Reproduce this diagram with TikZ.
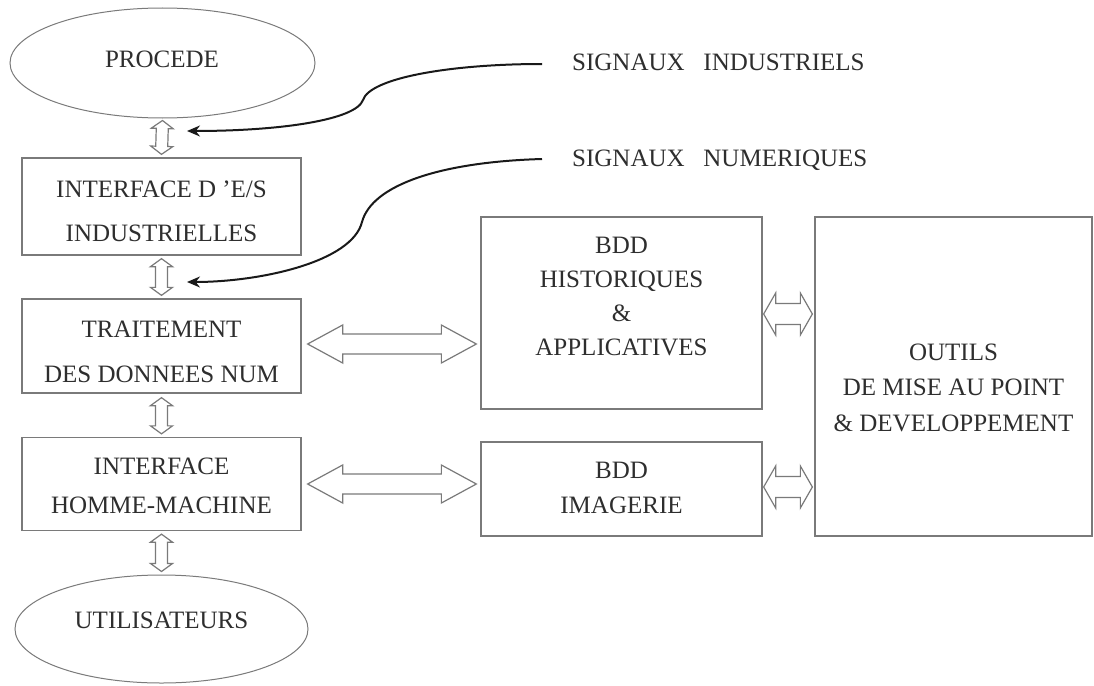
\documentclass[tikz,border=0pt]{standalone}
\usepackage{fontspec}
\setmainfont{Liberation Serif}
\usetikzlibrary{shapes.geometric,calc,arrows.meta}
\definecolor{linegray}{HTML}{7A7A7A}
\definecolor{txtgray}{HTML}{2E2E2E}
\newcommand\dblarrow[5]{%
  \path (#1) coordinate (da1) (#2) coordinate (da2)
    ($(da1)!#3pt!(da2)$) coordinate (da3)
    ($(da2)!#3pt!(da1)$) coordinate (da4);
  \draw[darrow] (da1) -- ($(da3)!#5pt!90:(da2)$) -- ($(da3)!#4pt!90:(da2)$)
    -- ($(da4)!#4pt!-90:(da1)$) -- ($(da4)!#5pt!-90:(da1)$) -- (da2)
    -- ($(da4)!#5pt!90:(da1)$) -- ($(da4)!#4pt!90:(da1)$)
    -- ($(da3)!#4pt!-90:(da2)$) -- ($(da3)!#5pt!-90:(da2)$) -- cycle;
}
\tikzset{
  box/.style={draw=linegray, line width=1.3pt, rectangle, inner sep=0pt},
  oval/.style={draw=linegray, line width=1pt, ellipse, inner sep=0pt},
  txt/.style={text=txtgray, align=center, inner sep=0pt},
  darrow/.style={draw=linegray, line width=1.2pt, line join=miter, fill=white},
  sigarrow/.style={draw=black!90, line width=2pt, -{Stealth[length=13pt,width=11pt]}}
}
\begin{document}
\begin{tikzpicture}[x=1pt,y=-1pt]
\useasboundingbox[fill=white] (0,0) rectangle (1094,685);
% shapes
\node[oval, minimum width=305, minimum height=110] (proc) at (162.5,63) {};
\node[box, minimum width=279, minimum height=97] (ind) at (161.5,206.5) {};
\node[box, minimum width=279, minimum height=94] (trt) at (161.5,346) {};
\node[box, minimum width=279, minimum height=93] (ihm) at (161.5,484) {};
\node[oval, minimum width=293, minimum height=108] (uti) at (161.5,629) {};
\node[box, minimum width=281, minimum height=192] (bddh) at (621.5,313) {};
\node[box, minimum width=281, minimum height=94] (bddi) at (621.5,489) {};
\node[box, minimum width=277, minimum height=319] (out) at (953.5,376.5) {};
% texts
\node[txt, font=\fontsize{25}{42}\selectfont] (proct) at (162,59.5) {PROCEDE};
\node[txt, font=\fontsize{25}{44}\selectfont] (indt) at (161.5,211) {INTERFACE D ’E/S\\INDUSTRIELLES};
\node[txt, font=\fontsize{25}{45}\selectfont] (trtt) at (161.5,351.5) {TRAITEMENT\\DES DONNEES NUM};
\node[txt, font=\fontsize{25}{39}\selectfont] (ihmt) at (161.5,485.5) {INTERFACE\\HOMME-MACHINE};
\node[txt, font=\fontsize{25}{42}\selectfont] (utit) at (161.5,620) {UTILISATEURS};
\node[txt, font=\fontsize{25}{34}\selectfont] (bddht) at (621.5,297) {BDD\\HISTORIQUES\\\&\\APPLICATIVES};
\node[txt, font=\fontsize{25}{35}\selectfont] (bddit) at (621.5,488) {BDD\\IMAGERIE};
\node[txt, font=\fontsize{25}{35.5}\selectfont] (outt) at (953.5,387.5) {OUTILS\\DE MISE AU POINT\\\& DEVELOPPEMENT};
\node[txt, anchor=west, font=\fontsize{25}{30}\selectfont] (sig1) at (572,62) {SIGNAUX\hspace{0.75em}INDUSTRIELS};
\node[txt, anchor=west, font=\fontsize{25}{30}\selectfont] (sig2) at (572,160) {SIGNAUX\hspace{0.75em}NUMERIQUES};
% vertical double arrows
\dblarrow{$(proc.south)+(0,2)$}{$(ind.north)+(0,-3)$}{8}{6}{11}
\dblarrow{$(ind.south)+(0,3)$}{$(trt.north)+(0,-3)$}{8}{6}{11}
\dblarrow{$(trt.south)+(0,4)$}{$(ihm.north)+(0,-3)$}{8}{6}{11}
\dblarrow{$(ihm.south)+(0,3)$}{$(uti.north)+(0,-3)$}{8}{6}{11}
% horizontal double arrows
\dblarrow{$(trt.east)+(6,-2)$}{$(bddh.west |- trt.east)+(-4,-2)$}{35}{10}{19}
\dblarrow{$(ihm.east)+(6,0)$}{$(bddi.west |- ihm.east)+(-4,0)$}{35}{10}{19}
\dblarrow{$(bddh.east)+(1,1)$}{$(out.west |- bddh.east)+(-2,1)$}{12}{10.5}{21}
\dblarrow{$(bddi.east)+(1,-2)$}{$(out.west |- bddi.east)+(-2,-2)$}{12}{10.5}{21}
% signal curves
\coordinate (t1) at (187,131);
\coordinate (t2) at (187,282);
\draw[sigarrow] ($(sig1.west)+(-30,2)$) .. controls (450,64) and (370,78) .. (363,100)
   .. controls (356,120) and (280,131) .. (t1);
\draw[sigarrow] ($(sig2.west)+(-30,-1)$) .. controls (440,162) and (372,185) .. (362,222)
   .. controls (352,262) and (260,282) .. (t2);
\end{tikzpicture}
\end{document}
